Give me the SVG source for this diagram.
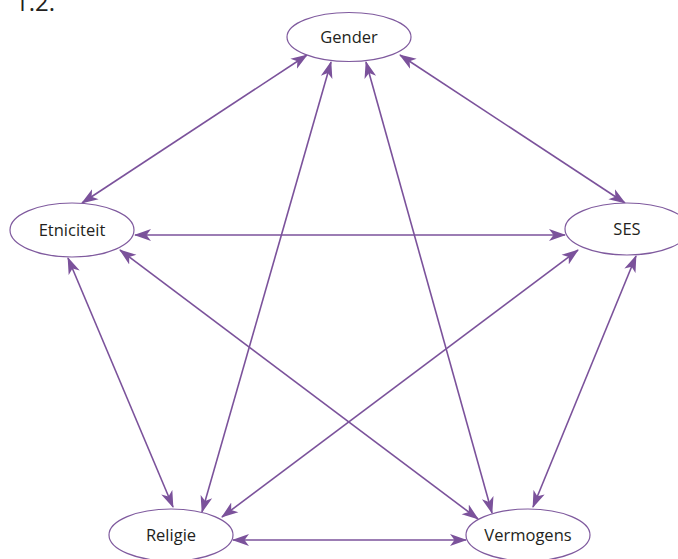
<svg xmlns="http://www.w3.org/2000/svg" width="678" height="559" viewBox="0 0 678 559">
<style>
.node ellipse{fill:#ffffff;stroke:#7f5a9e;stroke-width:1.2}
.node text{font-family:"Open Sans","Noto Sans",sans-serif;font-size:16.5px;font-weight:400;fill:#231f20;text-anchor:middle}
.edge{stroke:#7b529b;stroke-width:1.6;fill:none;marker-start:url(#ah);marker-end:url(#ah)}
</style>
<defs>
<marker id="ah" viewBox="0 0 17 13" refX="16" refY="6.5" markerWidth="17" markerHeight="13" markerUnits="userSpaceOnUse" orient="auto-start-reverse">
<path d="M0,0.5 L17,6.5 L0,12.5 L4.5,6.5 Z" fill="#7b529b"/>
</marker>
</defs>
<rect width="678" height="559" fill="#ffffff"/>
<text x="15" y="11" font-family="Open Sans, Noto Sans, sans-serif" font-size="24" fill="#231f20">1.2.</text>
<g id="connectors">
<line class="edge" x1="307" y1="55" x2="82" y2="203"/>
<line class="edge" x1="400" y1="55" x2="625" y2="203"/>
<line class="edge" x1="331" y1="62" x2="202" y2="512"/>
<line class="edge" x1="366" y1="62" x2="492" y2="513"/>
<line class="edge" x1="135" y1="235" x2="565" y2="235"/>
<line class="edge" x1="68" y1="258" x2="173" y2="507"/>
<line class="edge" x1="120" y1="250" x2="478" y2="519"/>
<line class="edge" x1="578" y1="250" x2="222" y2="517"/>
<line class="edge" x1="636" y1="256" x2="533" y2="507"/>
<line class="edge" x1="233" y1="540" x2="466" y2="540"/>
</g>
<g id="gender" class="node"><ellipse cx="349" cy="37" rx="62" ry="24.5"/><text x="349" y="43">Gender</text></g>
<g id="etniciteit" class="node"><ellipse cx="72" cy="230" rx="62" ry="27"/><text x="72" y="236">Etniciteit</text></g>
<g id="ses" class="node"><ellipse cx="627" cy="229" rx="62" ry="26"/><text x="627" y="235">SES</text></g>
<g id="religie" class="node"><ellipse cx="171" cy="535" rx="62" ry="26"/><text x="171" y="541">Religie</text></g>
<g id="vermogens" class="node"><ellipse cx="528" cy="535" rx="62" ry="26"/><text x="528" y="541">Vermogens</text></g>
</svg>
